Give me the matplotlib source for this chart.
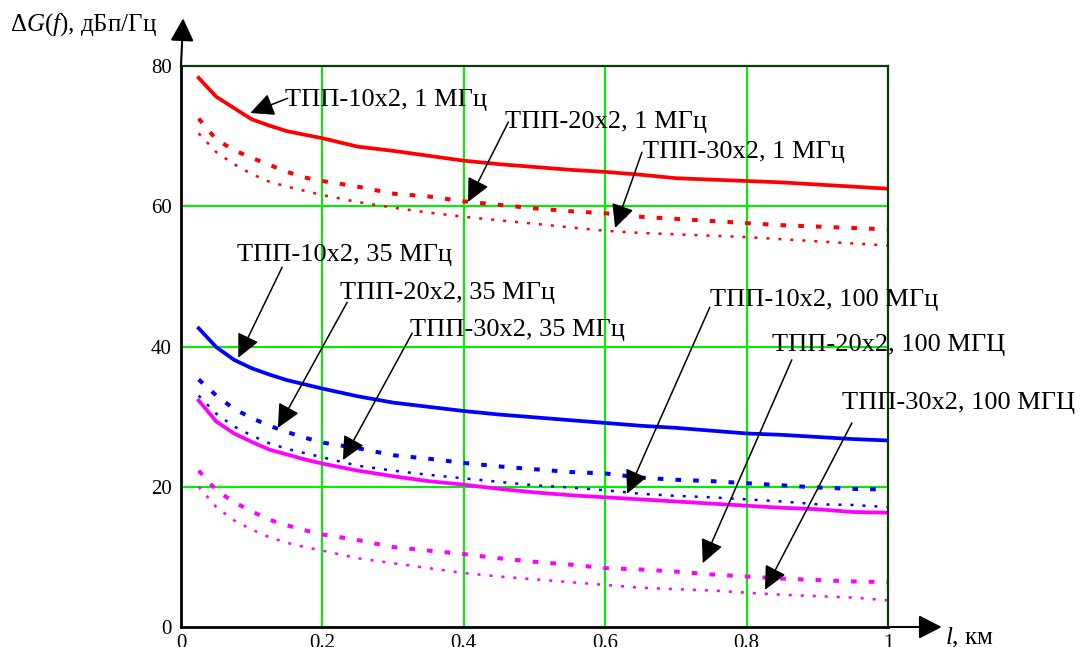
import matplotlib
matplotlib.use("Agg")
import matplotlib.pyplot as plt

plt.rcParams["font.family"] = ["Liberation Serif", "DejaVu Serif"]
plt.rcParams["mathtext.fontset"] = "custom"
plt.rcParams["mathtext.rm"] = "Liberation Serif"
plt.rcParams["mathtext.it"] = "Liberation Serif:italic"

# длина линии, км
length_km = [0.025, 0.05, 0.075, 0.1, 0.125, 0.15, 0.175, 0.2, 0.25, 0.3, 0.35, 0.4,
             0.45, 0.5, 0.55, 0.6, 0.65, 0.7, 0.75, 0.8, 0.85, 0.9, 0.95, 1.0]

# ΔG(f), дБп/Гц — 1 МГц
tpp10_1 = [78.3, 75.6, 74.0, 72.4, 71.5, 70.7, 70.2, 69.7, 68.5, 67.9, 67.2, 66.5,
           66.0, 65.6, 65.2, 64.9, 64.5, 64.0, 63.8, 63.6, 63.4, 63.1, 62.8, 62.5]
tpp20_1 = [72.5, 69.5, 68.0, 66.9, 65.9, 64.9, 64.1, 63.6, 62.8, 61.8, 61.4, 60.7,
           60.2, 59.7, 59.3, 59.0, 58.5, 58.2, 57.9, 57.6, 57.3, 57.1, 56.9, 56.7]
tpp30_1 = [70.4, 67.7, 66.0, 64.6, 63.5, 62.8, 62.2, 61.6, 60.6, 59.8, 59.1, 58.5,
           58.0, 57.5, 57.0, 56.5, 56.2, 56.0, 55.8, 55.6, 55.3, 55.0, 54.7, 54.4]

# 35 МГц
tpp10_35 = [42.6, 39.9, 38.1, 36.9, 36.0, 35.2, 34.6, 34.0, 32.9, 32.0, 31.4, 30.8,
            30.3, 29.9, 29.5, 29.1, 28.7, 28.4, 28.0, 27.6, 27.4, 27.1, 26.8, 26.6]
tpp20_35 = [35.3, 33.0, 31.1, 29.8, 28.7, 27.8, 27.0, 26.3, 25.5, 24.5, 24.0, 23.4,
            22.9, 22.5, 22.1, 21.9, 21.3, 21.0, 20.8, 20.5, 20.2, 19.9, 19.7, 19.6]
tpp30_35 = [33.0, 30.4, 28.6, 27.3, 26.2, 25.4, 24.8, 24.2, 23.0, 22.3, 21.7, 21.2,
            20.7, 20.2, 19.9, 19.5, 19.0, 18.7, 18.5, 18.2, 17.9, 17.5, 17.4, 17.1]

# 100 МГц
tpp10_100 = [32.3, 29.3, 27.6, 26.4, 25.3, 24.6, 23.9, 23.3, 22.3, 21.5, 20.8, 20.3,
             19.7, 19.2, 18.8, 18.5, 18.2, 17.9, 17.6, 17.3, 17.0, 16.8, 16.4, 16.3]
tpp20_100 = [22.3, 19.5, 17.8, 16.5, 15.3, 14.5, 13.8, 13.2, 12.4, 11.4, 10.9, 10.4,
             9.8, 9.3, 8.9, 8.4, 8.2, 7.9, 7.5, 7.2, 6.9, 6.7, 6.5, 6.4]
tpp30_100 = [20.0, 17.1, 15.2, 13.9, 12.8, 12.0, 11.4, 10.9, 9.8, 9.1, 8.4, 7.7,
             7.2, 6.8, 6.4, 6.0, 5.6, 5.4, 5.2, 4.9, 4.6, 4.4, 4.2, 3.8]

x_ticks = [0, 0.2, 0.4, 0.6, 0.8, 1]
x_tick_labels = ["0", "0.2", "0.4", "0.6", "0.8", "1"]
y_ticks = [0, 20, 40, 60, 80]

# подписи: текст, положение текста, начало стрелки, острие стрелки
labels = [
    ("ТПП-10x2, 1 МГц", (0.147, 75.1), (0.151, 75.4), (0.098, 73.3)),
    ("ТПП-20x2, 1 МГц", (0.458, 72.0), (0.463, 72.0), (0.406, 60.6)),
    ("ТПП-30x2, 1 МГц", (0.653, 67.7), (0.652, 67.7), (0.614, 56.9)),
    ("ТПП-10x2, 35 МГц", (0.079, 53.0), (0.143, 51.3), (0.081, 38.4)),
    ("ТПП-20x2, 35 МГц", (0.225, 47.6), (0.235, 46.3), (0.137, 28.4)),
    ("ТПП-30x2, 35 МГц", (0.324, 42.4), (0.327, 41.9), (0.229, 23.8)),
    ("ТПП-10x2, 100 МГц", (0.748, 46.6), (0.748, 45.6), (0.631, 19.0)),
    ("ТПП-20x2, 100 МГЦ", (0.836, 40.2), (0.864, 38.1), (0.738, 9.1)),
    ("ТПП-30x2, 100 МГЦ", (0.935, 31.9), (0.949, 29.1), (0.826, 5.3)),
]

fig = plt.figure(figsize=(10.8, 6.47), dpi=100)
ax = fig.add_axes([0.1676, 0.0309, 0.6546, 0.8671])

solid = dict(linestyle="-", linewidth=2.7)
dashed = dict(linestyle=(0, (1.4, 3.0)), linewidth=2.9)
dotted = dict(linestyle=(0, (1.2, 3.6)), linewidth=1.8)

for series, color in [((tpp10_1, tpp20_1, tpp30_1), "#ff0000"),
                      ((tpp10_35, tpp20_35, tpp30_35), "#0000ff"),
                      ((tpp10_100, tpp20_100, tpp30_100), "#ff00ff")]:
    for values, style in zip(series, (solid, dashed, dotted)):
        ax.plot(length_km, values, color=color, **style)

ax.set_xlim(0, 1)
ax.set_ylim(0, 80)
ax.set_xticks(x_ticks)
ax.set_xticklabels(x_tick_labels)
ax.set_yticks(y_ticks)
ax.tick_params(length=0, labelsize=15)
ax.tick_params(axis="x", pad=5)
ax.tick_params(axis="y", pad=6.5)

for v in x_ticks[1:-1]:
    ax.axvline(v, color="#00ee00", linewidth=1.5, zorder=0)
for v in y_ticks[1:-1]:
    ax.axhline(v, color="#00ee00", linewidth=1.5, zorder=0)

ax.spines["left"].set_color("black")
ax.spines["bottom"].set_color("black")
ax.spines["left"].set_linewidth(2)
ax.spines["bottom"].set_linewidth(2)
for side in ("top", "right"):
    ax.spines[side].set_color("#0a3a0a")
    ax.spines[side].set_linewidth(1.6)

for text, pos, start, tip in labels:
    ax.text(pos[0], pos[1], text, fontsize=19, ha="left", va="center",
            clip_on=False)
    ax.annotate("", xy=tip, xytext=start, annotation_clip=False,
                arrowprops=dict(arrowstyle="-|>,head_length=1.45,head_width=0.7",
                                mutation_scale=10, color="black", lw=1.1,
                                shrinkA=0, shrinkB=0))

# стрелки осей
head = dict(arrowstyle="-|>,head_length=1.4,head_width=0.72", mutation_scale=10,
            color="black", lw=1.5, shrinkA=0, shrinkB=0)
ax.annotate("", xy=(0.003, 86.8), xytext=(0, 80), annotation_clip=False,
            arrowprops=head)
ax.annotate("", xy=(1.076, 0), xytext=(1, 0), annotation_clip=False,
            arrowprops=head)

fig.text(10 / 1080, 1 - 25 / 647, r"$\Delta \mathit{G}(\mathit{f})$, дБп/Гц",
         fontsize=18, ha="left", va="center")
fig.text(945 / 1080, 1 - 638 / 647, r"$\mathit{l}$, км",
         fontsize=18, ha="left", va="center")

fig.savefig("out.png", dpi=100)
plt.close(fig)
